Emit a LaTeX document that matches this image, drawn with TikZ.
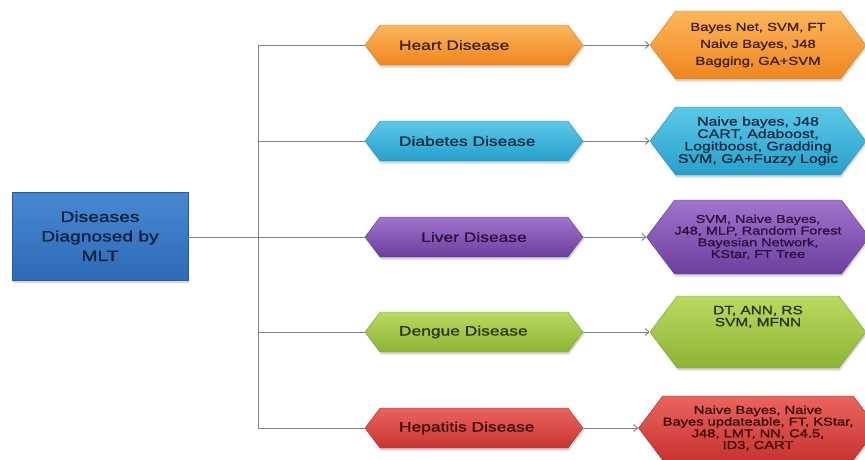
\documentclass[tikz,border=0pt]{standalone}
\usepackage{fontspec}
\setmainfont[FakeStretch=1.28,FakeBold=0.9]{Liberation Sans}
\usetikzlibrary{shapes.symbols,shadows,arrows.meta}
\definecolor{lineG}{HTML}{7F7F7F}
\begin{document}
\begin{tikzpicture}[x=1pt,y=-1pt,
  conn/.style={draw=lineG,line width=0.9pt},
  arr/.style={conn,-{Straight Barb[length=4pt,width=7pt]}},
  shad/.style={drop shadow={opacity=0.3,shadow xshift=1pt,shadow yshift=-2.5pt}},
  hexbase/.style={signal,signal to=east and west,signal pointer angle=106,inner sep=0pt,align=center,shad,line width=0.4pt},
  midhex/.style={hexbase,minimum width=218pt,minimum height=40pt,font=\fontsize{13.6}{16}\selectfont},
  righthex/.style={hexbase,minimum width=216pt},
  orangeS/.style={top color={rgb,255:red,252;green,182;blue,92},bottom color={rgb,255:red,240;green,134;blue,30},draw={rgb,255:red,220;green,120;blue,30},text={rgb,255:red,60;green,30;blue,0}},
  cyanS/.style={top color={rgb,255:red,92;green,200;blue,232},bottom color={rgb,255:red,38;green,160;blue,204},draw={rgb,255:red,36;green,140;blue,180},text={rgb,255:red,10;green,40;blue,64}},
  purpleS/.style={top color={rgb,255:red,160;green,116;blue,204},bottom color={rgb,255:red,108;green,62;blue,158},draw={rgb,255:red,96;green,56;blue,140},text={rgb,255:red,40;green,14;blue,62}},
  greenS/.style={top color={rgb,255:red,184;green,218;blue,96},bottom color={rgb,255:red,140;green,180;blue,52},draw={rgb,255:red,124;green,160;blue,46},text={rgb,255:red,36;green,52;blue,8}},
  redS/.style={top color={rgb,255:red,234;green,100;blue,94},bottom color={rgb,255:red,200;green,52;blue,48},draw={rgb,255:red,178;green,44;blue,40},text={rgb,255:red,58;green,8;blue,8}},
  mltbox/.style={rectangle,minimum width=176pt,minimum height=88pt,inner sep=0pt,align=center,shad,
    top color={rgb,255:red,72;green,136;blue,210},bottom color={rgb,255:red,46;green,106;blue,182},draw={rgb,255:red,40;green,90;blue,155},line width=0.5pt,
    text={rgb,255:red,10;green,30;blue,62},font=\fontsize{15}{19.5}\selectfont}
]
\useasboundingbox (0,0) rectangle (865,459);
\clip (0,0) rectangle (865,459);
\fill[white] (0,0) rectangle (865,459);

\coordinate (trunk) at (258,0);

% left box
\node[mltbox] (mlt) at (100,236) {Diseases\\Diagnosed by\\MLT};

% middle hexagons
\node[midhex,orangeS] (heart) at (474,45) {\makebox[150pt][l]{Heart Disease}};
\node[midhex,cyanS] (diab) at (474,141) {\makebox[150pt][l]{Diabetes Disease}};
\node[midhex,purpleS] (liver) at (474,237) {\makebox[150pt][c]{Liver Disease}};
\node[midhex,greenS] (dengue) at (474,332) {\makebox[150pt][l]{Dengue Disease}};
\node[midhex,redS] (hep) at (474,428) {\makebox[150pt][l]{Hepatitis Disease}};

% right hexagons
\node[righthex,orangeS,minimum height=68pt,font=\fontsize{11.6}{17}\selectfont] (heartR) at (758,45)
  {Bayes Net, SVM, FT\\Naive Bayes, J48\\Bagging, GA+SVM};
\node[righthex,cyanS,minimum height=68pt,font=\fontsize{12.4}{12.4}\selectfont] (diabR) at (758,141)
  {Naive bayes, J48\\CART, Adaboost,\\Logitboost, Gradding\\SVM, GA+Fuzzy Logic};
\node[righthex,purpleS,minimum height=74pt,font=\fontsize{11.3}{11.7}\selectfont] (liverR) at (758,237)
  {SVM, Naive Bayes,\\J48, MLP, Random Forest\\Bayesian Network,\\KStar, FT Tree};
\node[righthex,greenS,minimum height=72pt,font=\fontsize{12}{12}\selectfont] (dengueR) at (758,332)
  {DT, ANN, RS\\SVM, MFNN\\[20pt]\mbox{}};
\node[righthex,redS,minimum height=64pt,font=\fontsize{11.5}{11.7}\selectfont] (hepR) at (758,428)
  {Naive Bayes, Naive\\Bayes updateable, FT, KStar,\\J48, LMT, NN, C4.5,\\ID3, CART};

% connectors
\draw[conn] (heart.west) -- (heart.west -| trunk) -- (hep.west -| trunk) -- (hep.west);
\draw[conn] (diab.west -| trunk) -- (diab.west);
\draw[conn] (dengue.west -| trunk) -- (dengue.west);
\draw[conn] (mlt.east |- liver.west) -- (liver.west);

\draw[arr] (heart.east) -- (heartR.west);
\draw[arr] (diab.east) -- (diabR.west);
\draw[arr] (liver.east) -- (liverR.west);
\draw[arr] (dengue.east) -- (dengueR.west);
\draw[arr] (hep.east) -- (hepR.west);
\end{tikzpicture}
\end{document}
